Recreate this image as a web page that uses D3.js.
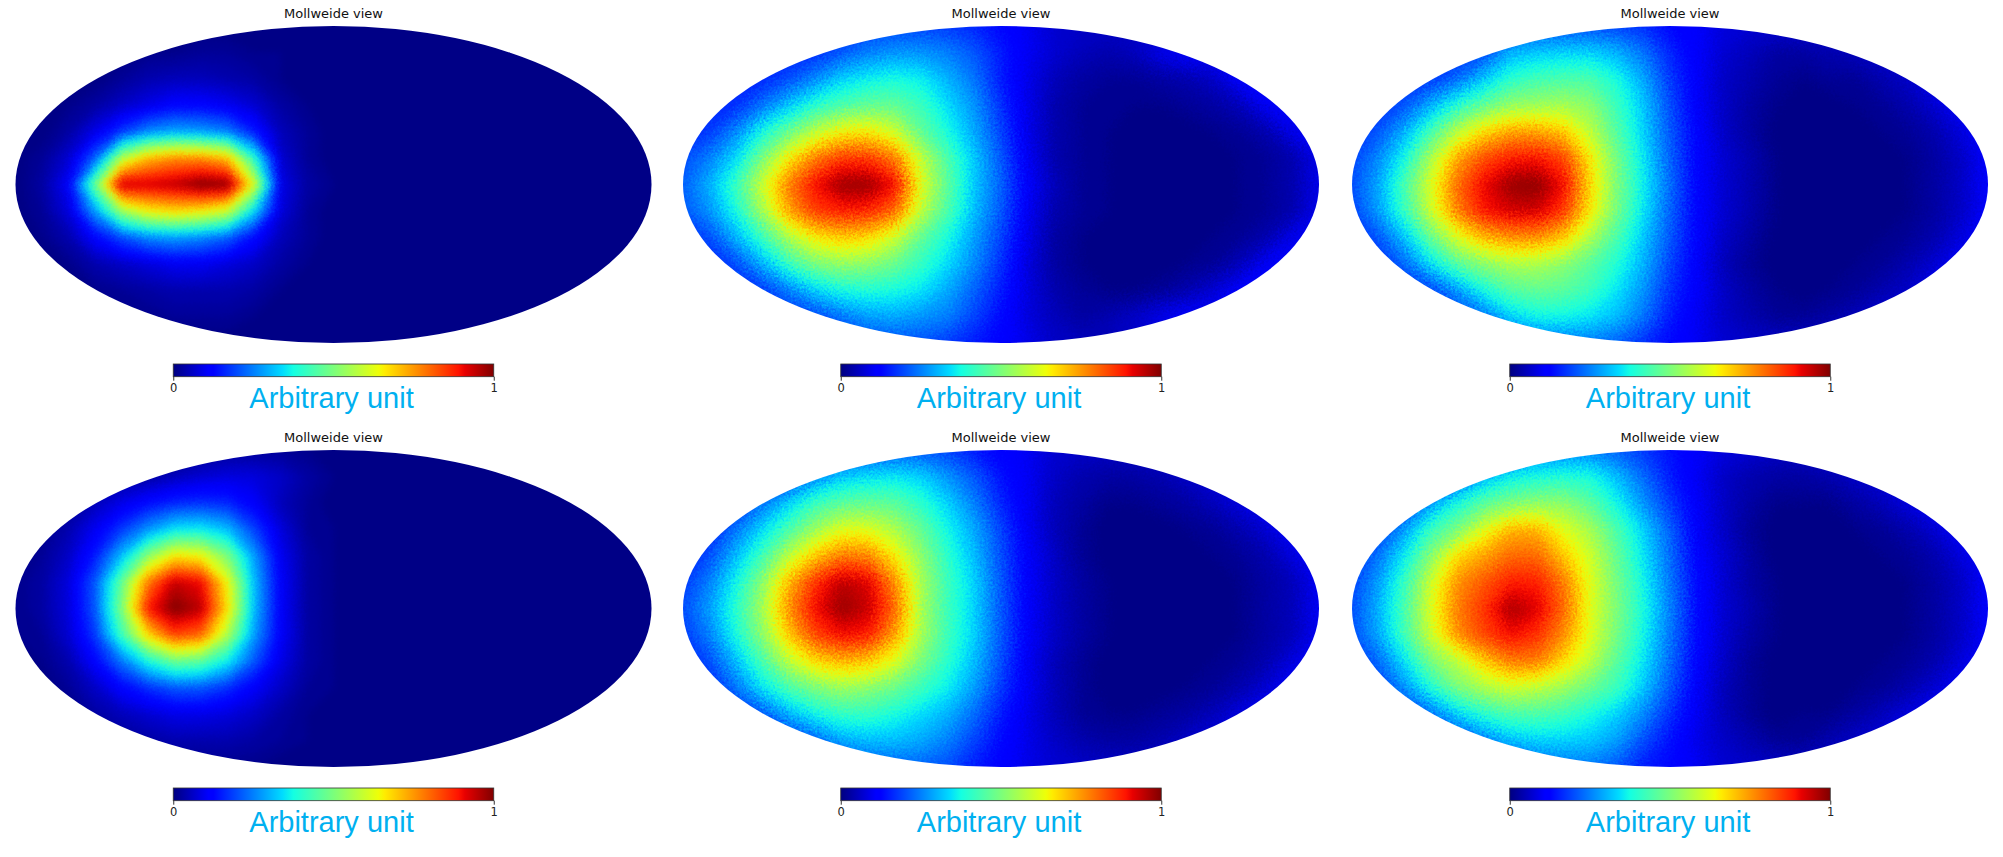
<!DOCTYPE html>
<html lang="en">
<head>
  <meta charset="utf-8">
  <title>Mollweide views</title>
  <script src="https://d3js.org/d3.v7.min.js"></script>
  <style>
    body { margin: 0; background: #fff; }
    .title { font-family: "DejaVu Sans"; font-size: 13px; fill: #111; text-anchor: middle; }
    .unit { font-family: "Liberation Sans"; font-size: 29px; fill: #00b0f0; text-anchor: middle; }
    .tick text { font-family: "DejaVu Sans"; font-size: 11.5px; fill: #222; }
    .tick line { stroke: #333; }
    .domain { display: none; }
  </style>
</head>
<body>
<script>
  // values, in hundredths of the arbitrary unit
  // 13 rows top to bottom, 25 columns left to right across each map
  const topLeft = [
    [0,0,0,0,0,0,0,0,0,0,0,0,0,0,0,0,0,0,0,0,0,0,0,0,0],
    [0,0,0,0,0,1,1,2,2,1,1,0,0,0,0,0,0,0,0,0,0,0,0,0,0],
    [0,0,0,0,2,4,5,5,4,3,1,0,0,0,0,0,0,0,0,0,0,0,0,0,0],
    [0,0,1,3,6,9,12,12,10,7,3,1,0,0,0,0,0,0,0,0,0,0,0,0,0],
    [0,0,3,9,18,26,29,28,25,15,5,2,0,0,0,0,0,0,0,0,0,0,0,0,0],
    [0,2,7,22,56,71,76,76,70,40,7,2,0,0,0,0,0,0,0,0,0,0,0,0,0],
    [0,3,11,48,94,93,95,100,99,62,9,3,1,0,0,0,0,0,0,0,0,0,0,0,0],
    [0,2,8,28,54,65,68,66,60,34,8,2,0,0,0,0,0,0,0,0,0,0,0,0,0],
    [0,1,4,12,20,26,28,26,22,13,5,2,0,0,0,0,0,0,0,0,0,0,0,0,0],
    [0,0,1,4,6,8,10,10,8,6,3,1,0,0,0,0,0,0,0,0,0,0,0,0,0],
    [0,0,0,1,2,3,4,4,4,3,1,0,0,0,0,0,0,0,0,0,0,0,0,0,0],
    [0,0,0,0,1,1,2,2,2,1,0,0,0,0,0,0,0,0,0,0,0,0,0,0,0],
    [0,0,0,0,0,0,0,0,0,0,0,0,0,0,0,0,0,0,0,0,0,0,0,0,0]
  ];
  const topMiddle = [
    [16,16,16,16,16,16,17,18,19,19,18,16,13,10,7,6,6,6,6,7,8,9,10,10,10],
    [16,16,16,16,16,17,21,25,27,27,25,21,15,10,7,5,4,5,9,11,11,11,11,11,11],
    [16,16,16,16,20,26,33,36,38,36,30,24,15,9,5,3,2,2,3,4,6,11,11,11,11],
    [16,16,17,24,32,40,44,47,47,42,34,27,17,9,4,2,1,1,1,2,3,5,10,11,11],
    [16,18,26,38,48,58,65,66,60,47,38,29,19,9,4,2,1,0,0,0,1,2,4,9,11],
    [20,25,34,50,66,78,85,85,78,58,44,32,21,10,4,2,1,0,0,0,0,1,2,4,9],
    [22,30,42,60,78,90,98,98,90,62,46,32,22,11,5,2,1,0,0,0,0,1,2,4,9],
    [21,27,38,55,74,85,88,87,80,58,44,31,21,10,4,2,1,0,0,0,0,1,2,4,9],
    [17,20,30,42,56,66,70,68,60,47,38,28,19,9,3,1,0,0,0,0,1,2,4,9,11],
    [16,16,20,30,42,50,53,52,48,41,34,26,17,8,3,1,0,0,0,1,2,5,10,11,11],
    [16,16,16,18,25,33,38,39,38,35,29,22,15,8,4,2,1,1,2,4,7,11,11,11,11],
    [16,16,16,16,17,19,24,28,29,27,25,19,13,8,5,3,4,6,9,11,11,11,11,11,11],
    [16,16,16,16,16,16,17,19,20,20,18,15,12,9,6,5,5,6,7,8,9,10,10,10,10]
  ];
  const topRight = [
    [17,17,17,17,17,17,19,20,20,20,19,17,13,11,8,7,7,7,7,7,8,9,10,10,10],
    [17,17,17,17,17,20,30,32,33,33,30,24,16,11,7,5,3,3,4,5,7,10,11,11,11],
    [17,17,17,18,23,32,40,43,44,44,38,29,18,11,6,4,2,1,2,2,4,6,11,11,11],
    [17,17,21,30,40,47,53,54,55,52,42,32,20,11,6,3,1,0,0,1,2,4,7,11,11],
    [17,21,30,44,58,68,74,74,70,58,45,33,21,12,6,3,0,0,0,0,1,2,4,8,12],
    [19,26,38,56,74,83,88,89,84,66,49,35,22,12,7,4,1,0,0,0,0,1,3,6,11],
    [20,29,44,62,80,91,98,99,90,68,50,36,23,12,7,4,1,0,0,0,0,1,3,6,11],
    [19,28,42,60,78,89,93,93,85,66,49,35,22,12,7,4,1,0,0,0,0,1,3,6,11],
    [17,21,32,48,62,72,76,76,70,56,44,32,21,12,6,3,0,0,0,0,1,2,4,8,12],
    [17,17,23,35,46,52,56,56,52,46,39,30,19,11,5,2,0,0,0,1,2,4,7,11,11],
    [17,17,17,19,28,38,45,47,46,42,35,27,17,11,6,3,1,0,1,2,4,6,11,11,11],
    [17,17,17,17,18,24,33,37,37,35,31,24,15,10,6,4,2,2,3,5,7,11,11,11,11],
    [17,17,17,17,17,17,20,23,24,24,22,17,13,10,7,6,6,6,7,7,8,9,10,10,10]
  ];
  const bottomLeft = [
    [0,0,0,0,0,0,0,1,2,2,2,1,0,0,0,0,0,0,0,0,0,0,0,0,0],
    [0,0,0,1,2,3,5,7,8,8,6,3,1,0,0,0,0,0,0,0,0,0,0,0,0],
    [0,0,2,5,9,13,16,17,16,11,5,2,0,0,0,0,0,0,0,0,0,0,0,0,0],
    [0,1,4,10,18,27,35,36,31,19,8,2,1,0,0,0,0,0,0,0,0,0,0,0,0],
    [0,2,6,15,31,52,66,64,50,28,10,3,1,0,0,0,0,0,0,0,0,0,0,0,0],
    [1,3,8,21,47,78,94,90,64,31,11,3,1,0,0,0,0,0,0,0,0,0,0,0,0],
    [1,3,8,21,50,88,100,95,67,31,11,3,1,0,0,0,0,0,0,0,0,0,0,0,0],
    [1,2,7,18,42,68,84,80,56,28,11,3,1,0,0,0,0,0,0,0,0,0,0,0,0],
    [0,1,4,12,24,38,48,46,36,21,9,3,1,0,0,0,0,0,0,0,0,0,0,0,0],
    [0,0,2,6,12,17,21,21,17,11,6,2,1,0,0,0,0,0,0,0,0,0,0,0,0],
    [0,0,0,3,5,7,9,9,8,6,3,1,0,0,0,0,0,0,0,0,0,0,0,0,0],
    [0,0,0,1,2,3,4,4,4,3,2,1,0,0,0,0,0,0,0,0,0,0,0,0,0],
    [0,0,0,0,0,0,1,1,1,1,0,0,0,0,0,0,0,0,0,0,0,0,0,0,0]
  ];
  const bottomMiddle = [
    [16,16,16,16,16,16,18,20,21,21,19,15,12,10,7,6,6,6,7,8,9,10,10,10,10],
    [16,16,16,16,18,26,32,34,35,33,27,21,14,10,6,4,3,3,4,6,8,10,10,10,10],
    [16,16,17,24,33,42,46,47,46,40,33,25,16,10,5,3,1,1,2,3,5,8,11,11,11],
    [16,16,24,34,44,54,62,62,56,47,37,29,19,10,5,2,0,0,0,1,2,4,7,11,11],
    [16,20,31,43,58,70,78,77,66,52,40,31,20,11,6,2,0,0,0,0,1,2,4,8,11],
    [18,25,37,52,72,86,95,92,76,55,42,33,21,11,6,3,1,0,0,0,0,1,3,5,10],
    [20,28,40,55,76,90,98,94,80,55,42,33,21,11,6,3,1,0,0,0,0,1,3,5,10],
    [18,25,38,52,70,84,90,88,74,55,42,33,21,11,6,3,1,0,0,0,0,1,3,5,10],
    [16,20,31,44,58,68,72,70,62,50,40,31,20,10,5,2,0,0,0,0,1,2,4,8,11],
    [16,16,24,35,44,50,54,52,48,42,36,28,18,10,5,2,0,0,0,1,2,4,7,11,11],
    [16,16,17,21,30,37,41,41,38,34,30,23,15,9,5,2,1,1,2,3,5,8,11,11,11],
    [16,16,16,16,17,22,29,31,31,29,25,19,13,9,6,4,3,3,4,6,8,10,10,10,10],
    [16,16,16,16,16,16,18,21,22,22,20,15,12,9,7,6,6,6,7,8,9,10,10,10,10]
  ];
  const bottomRight = [
    [17,17,17,17,17,17,20,24,25,25,22,18,14,11,8,7,6,6,7,8,9,10,10,10,10],
    [17,17,17,17,20,30,36,38,39,38,31,23,15,10,6,4,3,3,4,6,8,10,10,10,10],
    [17,17,18,28,38,46,50,52,52,46,37,27,18,11,6,3,1,1,1,3,5,8,11,11,11],
    [17,18,28,42,50,62,72,72,62,55,44,33,22,11,6,2,0,0,0,1,2,4,7,11,11],
    [17,24,36,52,68,74,80,80,70,60,47,35,23,12,7,3,0,0,0,0,1,2,4,8,11],
    [19,28,42,60,76,82,88,88,78,62,49,37,24,13,7,3,1,0,0,0,0,1,3,6,11],
    [20,30,44,62,78,86,97,92,80,62,50,38,25,13,7,4,1,0,0,0,0,1,3,6,11],
    [20,29,43,60,76,84,90,86,76,62,49,37,24,13,7,3,1,0,0,0,0,1,3,6,11],
    [17,23,35,50,58,70,78,78,68,58,46,35,23,12,6,2,0,0,0,0,1,2,4,8,11],
    [17,18,27,39,50,56,60,58,54,48,42,32,21,11,5,2,0,0,0,1,2,4,7,11,11],
    [17,17,18,24,33,40,44,44,42,38,33,26,17,10,5,2,0,1,1,3,5,8,11,11,11],
    [17,17,17,17,19,25,31,33,33,32,28,20,14,9,6,4,2,2,4,6,8,10,10,10,10],
    [17,17,17,17,17,17,19,22,24,24,21,15,13,10,7,6,6,6,7,8,9,10,10,10,10]
  ];

  const titleText = "Mollweide view";
  const unitText = "Arbitrary unit";
  const barTicks = [0, 100];
  const barTickLabels = ["0", "1"];

  // jet colormap
  const jetStops = [0, 11, 12.5, 34, 37.5, 64, 66, 89, 91, 100];
  const jetColors = ["#000080", "#0000ff", "#0000ff", "#00dbff", "#14ffe2", "#eeff08", "#ffec00", "#ff1300", "#e80000", "#800000"];
  const color = d3.scaleLinear().domain(jetStops).range(jetColors);

  const width = 2003, height = 857;
  const nCols = 25, nRows = 13;

  const panels = [
    { grid: topLeft, cx: 333.5, cy: 184.5, grain: "grainSoft" },
    { grid: topMiddle, cx: 1001, cy: 184.5, grain: "grainHard" },
    { grid: topRight, cx: 1670, cy: 184.5, grain: "grainHard" },
    { grid: bottomLeft, cx: 333.5, cy: 608.5, grain: "grainSoft" },
    { grid: bottomMiddle, cx: 1001, cy: 608.5, grain: "grainHard" },
    { grid: bottomRight, cx: 1670, cy: 608.5, grain: "grainHard" }
  ];

  const svg = d3.select("body").append("svg")
    .attr("width", width)
    .attr("height", height)
    .style("display", "block");

  const defs = svg.append("defs");

  // speckle of the map pixels, only moves colours about by a few px (fixed seed)
  function addGrain(id, blur, amount) {
    const f = defs.append("filter").attr("id", id)
      .attr("filterUnits", "userSpaceOnUse")
      .attr("x", 0).attr("y", 0).attr("width", width).attr("height", height)
      .attr("color-interpolation-filters", "sRGB");
    f.append("feGaussianBlur").attr("in", "SourceGraphic").attr("stdDeviation", blur).attr("result", "smooth");
    f.append("feTurbulence").attr("type", "fractalNoise").attr("baseFrequency", 0.45)
      .attr("numOctaves", 2).attr("seed", 4).attr("result", "noise");
    f.append("feDisplacementMap").attr("in", "smooth").attr("in2", "noise")
      .attr("scale", amount).attr("xChannelSelector", "R").attr("yChannelSelector", "G");
  }
  addGrain("grainSoft", 3.5, 5);
  addGrain("grainHard", 5, 20);

  const grad = defs.append("linearGradient").attr("id", "jetBar");
  jetStops.forEach((s, i) => {
    grad.append("stop").attr("offset", s + "%").attr("stop-color", jetColors[i]);
  });

  const mapWidth = 636, mapHeight = 317;
  const barWidth = 320.5, barHeight = 12.7;

  panels.forEach((p, idx) => {
    // grid node i sits at i + 0.5 in d3.contours coordinates
    const x = d3.scaleLinear().domain([0.5, nCols - 0.5]).range([p.cx - mapWidth / 2, p.cx + mapWidth / 2]);
    const y = d3.scaleLinear().domain([0.5, nRows - 0.5]).range([p.cy - mapHeight / 2, p.cy + mapHeight / 2]);
    const path = d3.geoPath(d3.geoTransform({
      point(a, b) { this.stream.point(x(a), y(b)); }
    }));

    const contours = d3.contours()
      .size([nCols, nRows])
      .thresholds(d3.range(0, 100))(p.grid.flat());

    defs.append("clipPath").attr("id", "clip" + idx)
      .append("ellipse")
      .attr("cx", x(12.5)).attr("cy", y(6.5))
      .attr("rx", mapWidth / 2).attr("ry", mapHeight / 2);

    const map = svg.append("g").attr("clip-path", `url(#clip${idx})`)
      .append("g").attr("filter", `url(#${p.grain})`);

    map.selectAll("path")
      .data(contours)
      .enter().append("path")
      .attr("d", path)
      .attr("fill", d => color(d.value + 0.5));

    svg.append("text")
      .attr("class", "title")
      .attr("x", p.cx)
      .attr("y", p.cy - 166.5)
      .text(titleText);

    // colourbar
    const barTop = p.cy + 179.5;
    const barScale = d3.scaleLinear().domain([0, 100]).range([p.cx - barWidth / 2, p.cx + barWidth / 2]);

    svg.append("rect")
      .attr("x", barScale(0))
      .attr("y", barTop)
      .attr("width", barWidth)
      .attr("height", barHeight)
      .attr("fill", "url(#jetBar)")
      .attr("stroke", "#333")
      .attr("stroke-width", 0.8);

    svg.append("g")
      .attr("transform", `translate(0,${barTop + barHeight})`)
      .call(d3.axisBottom(barScale).tickValues(barTicks).tickSize(4).tickPadding(3)
        .tickFormat((d, i) => barTickLabels[i]));

    svg.append("text")
      .attr("class", "unit")
      .attr("x", p.cx - 2)
      .attr("y", p.cy + 223.5)
      .text(unitText);
  });
</script>
</body>
</html>
